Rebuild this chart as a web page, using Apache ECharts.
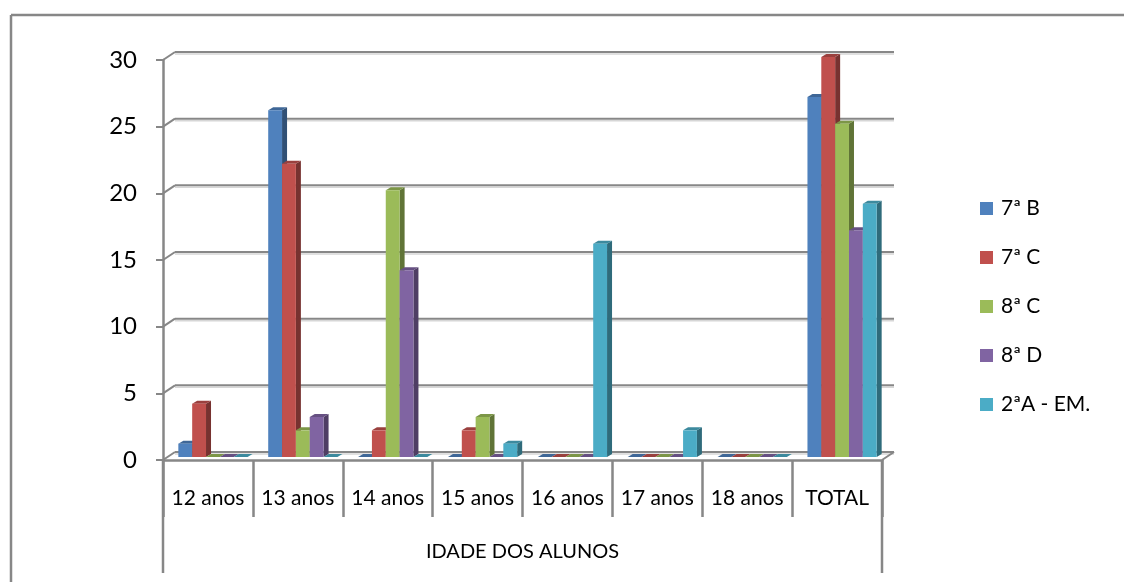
<!DOCTYPE html>
<html>
<head>
<meta charset="utf-8">
<script src="https://cdn.jsdelivr.net/npm/echarts@6/dist/echarts.min.js"></script>
<style>
  html, body { margin: 0; padding: 0; background: #fff; }
  #chart { width: 1124px; height: 582px; }
</style>
</head>
<body>
<div id="chart"></div>
<script>
// Age groups on the category axis
const categories = ['12 anos', '13 anos', '14 anos', '15 anos', '16 anos', '17 anos', '18 anos', 'TOTAL'];

// Number of students per class and age
const turma7B = [1, 26, 0, 0, 0, 0, 0, 27];
const turma7C = [4, 22, 2, 2, 0, 0, 0, 30];
const turma8C = [0, 2, 20, 3, 0, 0, 0, 25];
const turma8D = [0, 3, 14, 0, 0, 0, 0, 17];
const turma2A = [0, 0, 0, 1, 16, 2, 0, 19];

const seriesNames = ['7ª B', '7ª C', '8ª C', '8ª D', '2ªA - EM.'];
const yTicks = [0, 5, 10, 15, 20, 25, 30];
const axisTitle = 'IDADE DOS ALUNOS';

const palette = ['#4F81BD', '#C0504D', '#9BBB59', '#8064A2', '#4BACC6'];
const GRAY = '#878787';
const FONT = 'Lato, "Open Sans", sans-serif';

// pseudo-3D offsets: back wall, bar plane, bar depth
const WALL = [12, -8];
const PLANE = [5, -3];
const DEPTH = [5, -3];
const BAR_RATIO = 0.154;

function shade(hex, f) {
  const n = parseInt(hex.slice(1), 16);
  const r = Math.round(((n >> 16) & 255) * f);
  const g = Math.round(((n >> 8) & 255) * f);
  const b = Math.round((n & 255) * f);
  return 'rgb(' + r + ',' + g + ',' + b + ')';
}

// back wall gridlines, wall/floor edges and the outer lines of the label table
function renderWall(params, api) {
  const v = api.value(1);
  const band = api.size([1, 0])[0];
  const p0 = api.coord([0, v]);
  const p1 = api.coord([categories.length - 1, v]);
  const L = p0[0] - band / 2;
  const R = p1[0] + band / 2;
  const y = p0[1];
  const children = [
    { type: 'line', shape: { x1: L + WALL[0], y1: y + WALL[1] + 2, x2: R + WALL[0], y2: y + WALL[1] + 2 },
      style: { stroke: '#d6d6d6', lineWidth: 1.5 } },
    { type: 'line', shape: { x1: L + WALL[0], y1: y + WALL[1], x2: R + WALL[0], y2: y + WALL[1] },
      style: { stroke: GRAY, lineWidth: 2 } },
    { type: 'line', shape: { x1: L, y1: y, x2: L + WALL[0], y2: y + WALL[1] },
      style: { stroke: GRAY, lineWidth: 2 } }
  ];
  if (v === 0) {
    children.push(
      { type: 'line', shape: { x1: R, y1: y, x2: R + WALL[0], y2: y + WALL[1] },
        style: { stroke: GRAY, lineWidth: 2 } },
      { type: 'line', shape: { x1: L, y1: y, x2: L, y2: y + 113 },
        style: { stroke: GRAY, lineWidth: 2.5 } },
      { type: 'line', shape: { x1: R, y1: y, x2: R, y2: y + 113 },
        style: { stroke: GRAY, lineWidth: 2.5 } }
    );
  }
  return { type: 'group', children: children };
}

function makeBarRenderer(idx) {
  return function (params, api) {
    const cat = api.value(0);
    const v = api.value(1);
    const band = api.size([1, 0])[0];
    const w = band * BAR_RATIO;
    const topPt = api.coord([cat, v]);
    const basePt = api.coord([cat, 0]);
    const x = topPt[0] - 2.5 * w + PLANE[0] + idx * w;
    const top = topPt[1] + PLANE[1];
    const bottom = basePt[1] + PLANE[1];
    const color = api.visual('color');
    const base = palette[idx];
    return {
      type: 'group',
      children: [
        { type: 'polygon',
          shape: { points: [[x + w, top], [x + w + DEPTH[0], top + DEPTH[1]], [x + w + DEPTH[0], bottom + DEPTH[1]], [x + w, bottom]] },
          style: { fill: shade(base, 0.62) } },
        { type: 'polygon',
          shape: { points: [[x, top], [x + DEPTH[0], top + DEPTH[1]], [x + w + DEPTH[0], top + DEPTH[1]], [x + w, top]] },
          style: { fill: shade(base, 0.8) } },
        { type: 'rect', shape: { x: x, y: top, width: w, height: bottom - top },
          style: { fill: color } }
      ]
    };
  };
}

const valueSets = [turma7B, turma7C, turma8C, turma8D, turma2A];
const barSeries = valueSets.map(function (vals, i) {
  return {
    name: seriesNames[i],
    type: 'custom',
    clip: false,
    z: 3,
    itemStyle: { color: palette[i] },
    renderItem: makeBarRenderer(i),
    encode: { x: 0, y: 1 },
    data: vals.map(function (v, c) { return [c, v]; })
  };
});

const chart = echarts.init(document.getElementById('chart'));
chart.setOption({
  animation: false,
  backgroundColor: '#fff',
  graphic: [
    { type: 'line', shape: { x1: 11, y1: 15, x2: 11, y2: 582 }, style: { stroke: GRAY, lineWidth: 2.5 } },
    { type: 'line', shape: { x1: 11, y1: 15, x2: 1124, y2: 15 }, style: { stroke: GRAY, lineWidth: 2.5 } }
  ],
  legend: {
    orient: 'vertical',
    left: 975,
    top: 193,
    itemWidth: 13,
    itemHeight: 13,
    itemGap: 28,
    icon: 'rect',
    data: seriesNames,
    textStyle: { fontFamily: FONT, fontSize: 21, color: '#000', lineHeight: 20, padding: [0, 0, 0, 3] }
  },
  grid: { left: 163, right: 242, top: 60, bottom: 122, containLabel: false },
  xAxis: {
    type: 'category',
    data: categories,
    boundaryGap: true,
    name: axisTitle,
    nameLocation: 'middle',
    nameGap: 82,
    nameTextStyle: { fontFamily: FONT, fontSize: 20, color: '#000' },
    axisLine: { show: true, lineStyle: { color: GRAY, width: 2.5 } },
    axisTick: { show: true, interval: 0, length: 57, lineStyle: { color: GRAY, width: 2.5 } },
    axisLabel: { interval: 0, margin: 28, fontFamily: FONT, fontSize: 21, color: '#000' },
    splitLine: { show: false }
  },
  yAxis: {
    type: 'value',
    min: 0,
    max: 30,
    interval: 5,
    axisLine: { show: true, lineStyle: { color: GRAY, width: 2.5 } },
    axisTick: { show: true, length: 7, lineStyle: { color: GRAY, width: 2 } },
    axisLabel: { margin: 26, fontFamily: FONT, fontSize: 24, color: '#000' },
    splitLine: { show: false }
  },
  series: [
    {
      name: 'wall',
      type: 'custom',
      clip: false,
      silent: true,
      z: 1,
      renderItem: renderWall,
      encode: { x: 0, y: 1 },
      data: yTicks.map(function (t) { return [0, t]; })
    }
  ].concat(barSeries)
});
</script>
</body>
</html>
